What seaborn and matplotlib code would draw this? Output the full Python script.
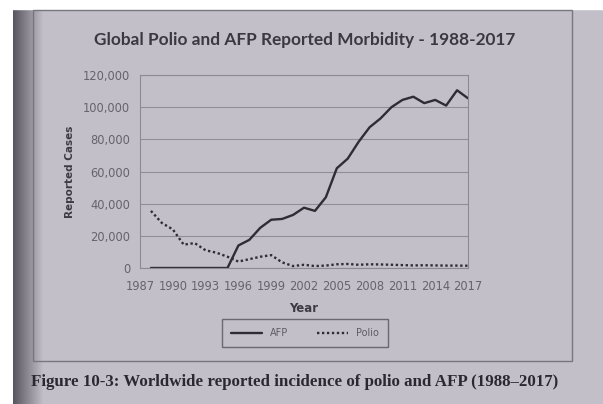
import numpy as np
import pandas as pd
import matplotlib
matplotlib.use("Agg")
import matplotlib.pyplot as plt
import seaborn as sns
from matplotlib.patches import Rectangle

years = list(range(1988, 2018))
afp_cases = [0, 0, 0, 0, 0, 0, 0, 0,
             14000, 17500, 25000, 30000, 30500, 33000, 37500, 35500,
             44000, 62000, 68000, 78500, 87500, 93000, 100000, 104500,
             106500, 102500, 104500, 101000, 110500, 105500]
polio_cases = [35500, 28000, 24000, 14500, 15500, 11000, 9500, 7000,
               4000, 5500, 7000, 8000, 3500, 1200, 2000, 1200,
               1500, 2300, 2500, 2000, 2300, 2200, 2000, 1800,
               1600, 1700, 1600, 1500, 1500, 1400]
y_ticks = [0, 20000, 40000, 60000, 80000, 100000, 120000]
x_ticks = list(range(1987, 2018, 3))

df = pd.DataFrame({
    "Year": years * 2,
    "Cases": afp_cases + polio_cases,
    "series": ["AFP"] * len(years) + ["Polio"] * len(years),
})

W, H = 603, 404
def fx(px):
    return px / W
def fy(py):
    return 1 - py / H

sns.set_style("white")
plt.rcParams["font.family"] = ["DejaVu Sans"]

fig = plt.figure(figsize=(6.03, 4.04), dpi=100)
page = "#c3bfc8"
fig.patch.set_facecolor(page)

# photo background: white margins and a dark shadow at the left edge
bg = fig.add_axes([0, 0, 1, 1], zorder=-10)
grad = np.ones((2, W, 3))
base = np.array([0xc3, 0xbf, 0xc8]) / 255
dark = np.array([0x5a, 0x56, 0x60]) / 255
xs = np.arange(W)
t = np.clip((xs - 13) / 30.0, 0, 1)[:, None]
row = dark * (1 - t) + base * t
row[xs < 13] = 1.0
grad[:] = row
bg.imshow(grad, aspect="auto", extent=[0, 1, 0, 1])
bg.add_patch(Rectangle((0, fy(9)), 1, 1, color="white"))
bg.set_axis_off()

# chart frame
fig.add_artist(Rectangle((fx(33), fy(361)), fx(572) - fx(33), fy(10) - fy(361),
                         transform=fig.transFigure, fill=False,
                         edgecolor="#7a7680", lw=1.0))

ax = fig.add_axes([fx(140), fy(268), fx(468) - fx(140), fy(75) - fy(268)])
ax.set_facecolor("none")

ink = "#2f2d34"
sns.lineplot(data=df, x="Year", y="Cases", hue="series", style="series",
             palette={"AFP": ink, "Polio": ink},
             dashes={"AFP": "", "Polio": (1, 1.1)},
             linewidth=1.7, ax=ax)

ax.set_xlim(1987, 2017)
ax.set_ylim(0, 120000)
ax.set_xticks(x_ticks)
ax.set_yticks(y_ticks)
ax.set_yticklabels([f"{v:,}" for v in y_ticks])
ax.tick_params(axis="both", labelsize=8.3, colors="#66636c", length=0)
ax.tick_params(axis="x", pad=9)
ax.tick_params(axis="y", pad=7)
ax.yaxis.grid(True, color="#928e98", lw=0.8)
for s in ax.spines.values():
    s.set_color("#8e8a94")
    s.set_linewidth(0.8)

ax.set_xlabel("Year", fontsize=8.5, fontweight="bold", color="#3d3b42", labelpad=6)
ax.set_ylabel("Reported Cases", fontsize=7.5, fontweight="bold", color="#3d3b42", labelpad=6)

handles, labels = ax.get_legend_handles_labels()
ax.get_legend().remove()
leg = fig.legend(handles, labels, loc="center", bbox_to_anchor=(fx(305), fy(333)),
                 ncol=2, frameon=True, fancybox=False, edgecolor="#55525a",
                 facecolor="none", fontsize=7, handlelength=3.2,
                 columnspacing=3.0, borderpad=0.9, labelcolor="#5f5c66")
leg.get_frame().set_linewidth(1.0)

fig.text(fx(305), fy(40), "Global Polio and AFP Reported Morbidity - 1988-2017",
         ha="center", va="center", fontsize=12.4, fontweight="bold",
         family=["Lato", "DejaVu Sans"], color="#3a3840")

fig.text(fx(31), fy(382),
         "Figure 10-3: Worldwide reported incidence of polio and AFP (1988\u20132017)",
         ha="left", va="center", fontsize=12.2, fontweight="bold",
         family=["Liberation Serif", "DejaVu Serif"], color="#2a2830")

fig.savefig("out.png", dpi=100, facecolor=page)
